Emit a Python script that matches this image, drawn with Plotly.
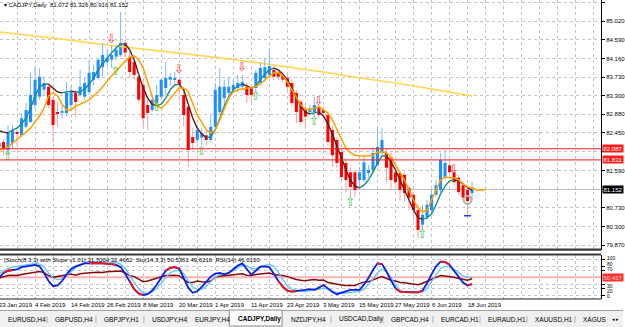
import plotly.graph_objects as go

# ---------------- data ----------------
date_labels = ["23 Jan 2019", "4 Feb 2019", "14 Feb 2019", "26 Feb 2019", "8 Mar 2019",
               "20 Mar 2019", "1 Apr 2019", "11 Apr 2019", "23 Apr 2019", "3 May 2019",
               "15 May 2019", "27 May 2019", "6 Jun 2019", "18 Jun 2019"]
date_label_bar = [0, 8, 16, 24, 32, 40, 48, 56, 64, 72, 80, 88, 96, 104]

opens = [82.22,82.24,82.06,82.22,82.47,82.40,82.59,82.70,83.09,83.28,
 83.44,83.51,83.21,82.93,82.93,82.91,83.09,83.37,83.32,83.28,
 83.39,83.67,83.71,83.96,84.08,84.13,84.20,84.24,84.52,84.20,
 84.08,83.74,83.55,83.09,82.98,83.14,83.28,83.48,83.67,83.67,
 83.67,83.32,83.05,82.36,82.29,82.34,82.40,82.29,82.59,82.93,
 83.25,83.37,83.44,83.48,83.51,83.51,83.48,83.48,83.60,83.71,
 83.78,83.90,83.85,83.78,83.71,83.60,83.37,83.16,82.98,82.93,
 82.93,83.05,82.98,82.86,82.52,82.29,82.01,81.76,81.55,81.55,
 81.37,81.37,81.53,81.60,81.71,81.99,81.99,81.90,81.55,81.53,
 81.49,81.19,81.03,80.68,80.34,80.52,80.68,81.03,81.14,81.44,
 81.71,81.55,81.42,81.25,81.14,81.072]
highs = [82.34,82.31,82.63,82.63,82.52,82.91,83.14,83.83,83.96,83.94,
 83.74,83.60,83.28,83.16,83.09,83.62,83.53,83.44,83.90,83.71,
 84.13,84.01,84.17,84.52,84.36,84.47,84.47,85.23,84.58,84.31,
 84.17,83.78,83.67,83.28,83.32,83.55,83.71,84.08,83.83,83.85,
 83.74,83.48,83.09,82.56,82.63,82.56,82.52,82.86,83.60,83.94,
 83.67,83.74,83.67,83.78,83.78,83.60,83.55,83.90,84.08,84.17,
 84.36,84.01,83.90,83.85,83.78,83.67,83.44,83.21,83.09,83.09,
 83.28,83.09,83.05,82.93,82.63,82.36,82.10,81.83,81.65,81.60,
 81.67,81.94,81.71,82.13,82.59,82.56,82.10,82.01,81.65,81.60,
 81.55,81.25,81.09,80.80,80.80,80.91,81.14,81.37,81.99,82.06,
 81.83,81.60,81.49,81.30,81.25,81.326]
lows = [82.01,81.94,81.94,82.10,82.17,82.36,82.56,82.68,83.02,83.21,
 83.32,83.02,82.24,82.59,82.79,82.84,82.98,82.82,83.28,83.21,
 83.32,83.55,83.67,83.74,84.00,83.94,84.13,84.20,84.17,83.71,
 83.67,83.16,82.59,82.52,82.93,83.09,83.21,83.32,83.55,83.55,
 83.21,82.59,81.67,82.06,82.22,82.17,82.17,82.24,82.52,82.86,
 83.09,83.28,83.37,83.39,83.44,83.14,83.14,83.37,83.55,83.62,
 83.74,83.67,83.67,83.60,83.44,83.05,82.68,82.63,82.56,82.86,
 82.82,82.79,82.79,82.17,81.67,81.65,81.37,81.09,80.96,80.98,
 81.21,81.32,81.44,81.53,81.67,81.90,81.32,81.14,81.25,80.91,
 80.86,80.68,80.45,80.04,80.22,80.45,80.57,80.98,81.09,81.37,
 81.44,81.25,81.03,80.91,80.57,80.916]
closes = [82.13,82.10,82.45,82.52,82.43,82.79,82.98,83.32,83.67,83.74,
 83.60,83.09,82.63,82.89,82.95,83.37,83.39,83.16,83.51,83.60,
 83.83,83.85,84.13,84.24,84.17,84.24,84.36,84.52,84.29,83.85,
 83.78,83.21,82.79,82.91,83.21,83.32,83.67,83.71,83.74,83.71,
 83.55,82.86,82.06,82.22,82.52,82.45,82.29,82.59,83.44,83.51,
 83.51,83.51,83.55,83.60,83.62,83.32,83.32,83.83,83.94,83.96,
 83.99,83.74,83.74,83.67,83.51,83.14,82.93,82.70,82.82,83.02,
 83.09,82.86,82.91,82.24,81.94,81.76,81.44,81.37,81.21,81.14,
 81.55,81.78,81.60,81.99,82.13,82.29,81.65,81.37,81.32,81.14,
 81.07,80.96,80.68,80.22,80.57,80.80,81.03,81.25,81.83,81.76,
 81.55,81.32,81.09,80.96,80.88,81.152]

fast_ma = [82.50,82.47,82.45,82.52,82.56,82.66,82.79,83.02,83.30,83.51,
 83.57,83.57,83.48,83.39,83.37,83.39,83.41,83.39,83.39,83.46,
 83.57,83.71,83.90,84.03,84.17,84.29,84.40,84.49,84.49,84.36,
 84.13,83.80,83.48,83.25,83.11,83.07,83.11,83.25,83.44,83.55,
 83.57,83.44,83.11,82.79,82.56,82.43,82.34,82.36,82.52,82.79,
 83.07,83.28,83.44,83.53,83.57,83.53,83.48,83.53,83.67,83.80,
 83.90,83.94,83.90,83.80,83.67,83.48,83.25,83.07,82.93,82.89,
 82.91,82.93,82.84,82.66,82.43,82.15,81.88,81.60,81.37,81.23,
 81.19,81.25,81.37,81.55,81.76,81.92,81.92,81.78,81.60,81.37,
 81.14,80.91,80.68,80.50,80.47,80.50,80.59,80.80,81.05,81.23,
 81.35,81.37,81.35,81.28,81.19,81.14]
slow_ma = [82.06,82.08,82.13,82.22,82.31,82.38,82.47,82.56,82.70,82.84,
 83.02,83.30,83.37,83.30,83.11,82.98,82.98,83.07,83.11,83.16,
 83.21,83.30,83.39,83.51,83.64,83.76,83.87,83.99,84.10,84.19,
 84.22,84.13,83.94,83.62,83.28,83.07,83.02,83.11,83.25,83.37,
 83.48,83.48,83.39,83.14,82.86,82.70,82.52,82.45,82.52,82.75,
 83.02,83.25,83.39,83.44,83.46,83.48,83.48,83.53,83.57,83.67,
 83.76,83.83,83.83,83.76,83.62,83.44,83.25,83.09,83.00,82.98,
 83.02,83.05,82.98,82.91,82.75,82.52,82.29,82.10,81.99,81.94,
 81.92,81.92,81.92,81.94,82.01,82.01,81.99,81.88,81.71,81.55,
 81.37,81.14,80.91,80.73,80.64,80.68,80.91,81.14,81.37,81.44,
 81.42,81.42,81.37,81.28,81.21,81.19,81.14,81.14,81.14]
long_ma_bar = [0, 8, 16, 24, 32, 40, 48, 56, 64, 72, 80, 88, 96, 105]
long_ma = [84.77, 84.68, 84.58, 84.47, 84.38, 84.29, 84.19, 84.08, 83.96, 83.85, 83.71, 83.60, 83.46, 83.30]

level_prices = [82.087, 81.831]
last_price = 81.152
price_ticks = [85.450, 85.020, 84.590, 84.160, 83.730, 83.300, 82.880, 82.450, 82.020,
               81.590, 81.160, 80.730, 80.300, 79.870]
hidden_ticks = [82.020, 81.160]   # covered by the level / price boxes

up_arrow_bar = [25, 40, 54, 71, 101]
up_arrow_price = [84.58, 83.90, 83.94, 83.16, 81.60]
dn_arrow_bar = [2, 26, 35, 45, 57, 70, 78, 94]
dn_arrow_price = [81.90, 83.85, 83.02, 82.01, 83.28, 82.70, 80.84, 80.11]
ring_bar, ring_price = [104], [80.91]
dash_bar, dash_price = [104], [80.55]

stoch8 = [48,62,68,70,72,78,80,82,84,80,62,40,26,28,40,58,72,80,84,88,
 88,89,89,88,88,86,84,78,60,40,18,6,2,4,14,30,50,68,76,78,
 74,50,22,8,12,24,38,52,60,62,58,62,72,82,88,72,57,68,79,80,
 78,60,40,24,14,11,12,14,16,18,16,22,29,20,10,4,8,14,16,16,
 16,30,48,70,88,86,66,42,20,11,10,9,9,9,14,34,58,80,93,92,
 84,68,50,36,28,31.7]
stoch8_red_ranges = [(1, 3), (20, 26), (29, 32), (37, 40), (62, 66), (84, 85), (88, 94), (98, 100), (104, 105)]
sto14 = [60,68,74,78,80,82,84,86,88,86,78,62,48,44,46,55,66,76,84,90,
 92,93,93,92,92,92,90,86,74,56,36,18,8,6,10,20,34,50,62,68,
 70,60,42,24,16,18,26,38,50,58,60,62,68,76,84,82,74,74,78,84,
 86,80,64,44,28,18,14,12,12,14,14,16,20,18,12,8,6,8,10,10,
 12,18,30,46,62,72,66,50,30,16,10,8,8,8,10,20,38,58,74,80,
 80,72,62,54,50,50.5]
rsi14 = [48,52,55,56,55,58,60,64,66,66,63,55,50,52,53,57,59,56,60,61,
 63,63,64,63,65,65,66,67,62,55,52,45,38,40,44,47,52,55,55,56,
 54,45,36,36,40,38,37,40,50,53,54,55,56,58,60,56,55,58,60,61,
 62,58,57,55,52,47,44,42,41,43,44,42,43,36,33,32,29,28,27,28,
 33,37,38,44,48,52,47,42,40,36,35,34,32,30,34,40,46,50,55,54,
 52,50,47,44,42,46]
osc_level = 50.467
osc_ticks = [100, 80, 70, 30, 20, 0]

tabs = ["EURUSD,H4", "GBPUSD,H4", "GBPJPY,H1", "USDJPY,H4", "EURJPY,H4", "CADJPY,Daily",
        "NZDJPY,H4", "USDCAD,Daily", "GBPCAD,H4", "EURCAD,H1", "EURAUD,H1", "XAUUSD,H1", "XAGUS"]
active_tab = "CADJPY,Daily"

# ---------------- styling / layout ----------------
W, H = 625, 327
FONT = "Liberation Sans"
BULL, BEAR = "#1E8FFF", "#FF0000"
BULL_W, BEAR_W = "#7CB8F4", "#F4A2A2"

def py(px):  # pixel row -> paper y
    return 1 - px / H

x_lo, x_hi = 1 / 4.52, 604 / 4.52
main_dom = [py(249.5), 1.0]
osc_dom = [py(299), py(254.5)]
xdom = [0, 603 / W]
osc_range = [-8.99, 112.26]

def bar_to_paper(b):
    return xdom[0] + (b - x_lo) / (x_hi - x_lo) * (xdom[1] - xdom[0])

n = len(closes)
idx = list(range(n))

fig = go.Figure()

fig.add_trace(go.Scatter(x=long_ma_bar, y=long_ma, mode="lines",
                         line=dict(color="#FFD54A", width=1.5), hoverinfo="skip"))

def wick_xy(sel):
    xs, ys = [], []
    for i in idx:
        if not sel(i):
            continue
        top, bot = max(opens[i], closes[i]), min(opens[i], closes[i])
        xs += [i, i, None, i, i, None]
        ys += [highs[i], top, None, bot, lows[i], None]
    return xs, ys

bx, byy = wick_xy(lambda i: closes[i] >= opens[i])
rx, ryy = wick_xy(lambda i: closes[i] < opens[i])
fig.add_trace(go.Scatter(x=bx, y=byy, mode="lines", line=dict(color=BULL_W, width=1), hoverinfo="skip"))
fig.add_trace(go.Scatter(x=rx, y=ryy, mode="lines", line=dict(color=BEAR_W, width=1), hoverinfo="skip"))

fig.add_trace(go.Bar(x=idx, base=[min(o, c) for o, c in zip(opens, closes)],
                     y=[max(abs(c - o), 0.015) for o, c in zip(opens, closes)],
                     width=0.68, marker=dict(color=[BULL if c >= o else BEAR for o, c in zip(opens, closes)],
                                             line=dict(width=0)), hoverinfo="skip"))

tx, ty, mx, my = [], [], [], []
for i in range(len(fast_ma) - 1):
    if fast_ma[i + 1] >= fast_ma[i]:
        tx += [i, i + 1, None]; ty += [fast_ma[i], fast_ma[i + 1], None]
    else:
        mx += [i, i + 1, None]; my += [fast_ma[i], fast_ma[i + 1], None]
fig.add_trace(go.Scatter(x=tx, y=ty, mode="lines", line=dict(color="#1A8A8A", width=1.4), hoverinfo="skip"))
fig.add_trace(go.Scatter(x=mx, y=my, mode="lines", line=dict(color="#5C1A1A", width=1.4), hoverinfo="skip"))

fig.add_trace(go.Scatter(x=list(range(len(slow_ma))), y=slow_ma, mode="lines",
                         line=dict(color="#FFA000", width=1.5), hoverinfo="skip"))

fig.add_trace(go.Scatter(x=up_arrow_bar, y=up_arrow_price, mode="text", text=["⇩"] * len(up_arrow_bar),
                         textfont=dict(family="DejaVu Sans", size=12, color="#FF3030"), hoverinfo="skip"))
fig.add_trace(go.Scatter(x=dn_arrow_bar, y=dn_arrow_price, mode="text", text=["⇧"] * len(dn_arrow_bar),
                         textfont=dict(family="DejaVu Sans", size=12, color="#35C735"), hoverinfo="skip"))
fig.add_trace(go.Scatter(x=ring_bar, y=ring_price, mode="markers",
                         marker=dict(symbol="circle-open", size=8, color="#B0B0B0", line=dict(width=2)),
                         hoverinfo="skip"))
fig.add_trace(go.Scatter(x=dash_bar, y=dash_price, mode="markers",
                         marker=dict(symbol="line-ew", size=5, line=dict(color="#2040FF", width=1.5)),
                         hoverinfo="skip"))

# ---- oscillator pane ----
fig.add_trace(go.Scatter(x=[0, x_hi], y=[osc_level, osc_level], mode="lines", xaxis="x2", yaxis="y2",
                         line=dict(color="#FFB0B0", width=2), hoverinfo="skip"))
fig.add_trace(go.Scatter(x=idx, y=rsi14, mode="lines", xaxis="x2", yaxis="y2",
                         line=dict(color="#8B0A0A", width=1.5), hoverinfo="skip"))
fig.add_trace(go.Scatter(x=idx, y=sto14, mode="lines", xaxis="x2", yaxis="y2",
                         line=dict(color="#5CC8F8", width=1.3), hoverinfo="skip"))
fig.add_trace(go.Scatter(x=idx, y=stoch8, mode="lines", xaxis="x2", yaxis="y2",
                         line=dict(color="#0A1EF0", width=1.8), hoverinfo="skip"))
for a, b in stoch8_red_ranges:
    fig.add_trace(go.Scatter(x=list(range(a, b + 1)), y=stoch8[a:b + 1], mode="lines", xaxis="x2", yaxis="y2",
                             line=dict(color="#FF1010", width=1.8), hoverinfo="skip"))

grid = dict(showgrid=True, gridcolor="#C4C4C4", griddash="dot", gridwidth=1)
fig.update_layout(
    width=W, height=H, margin=dict(l=0, r=0, t=0, b=0),
    paper_bgcolor="white", plot_bgcolor="white", showlegend=False, barmode="overlay",
    font=dict(family=FONT, size=6, color="black"),
    xaxis=dict(domain=xdom, range=[x_lo, x_hi], anchor="y", tickvals=list(range(0, 134, 4)),
               showticklabels=False, ticks="", zeroline=False, **grid),
    xaxis2=dict(domain=xdom, range=[x_lo, x_hi], anchor="y2", matches="x", tickvals=list(range(0, 134, 4)),
                showticklabels=False, ticks="", zeroline=False, **grid),
    yaxis=dict(domain=main_dom, range=[79.774, 85.503], side="right", tickvals=price_ticks,
               ticktext=["" if v in hidden_ticks else f"{v:.3f}" for v in price_ticks],
               ticks="outside", ticklen=3, tickcolor="black",
               showline=True, linecolor="black", linewidth=1, zeroline=False,
               tickfont=dict(size=6, family=FONT), **grid),
    yaxis2=dict(domain=osc_dom, range=osc_range, side="right", tickvals=osc_ticks,
                showticklabels=False, ticks="outside", ticklen=3, tickcolor="black",
                showline=True, linecolor="black", linewidth=1, zeroline=False, **grid),
)

shapes = []
for lv in level_prices:
    shapes.append(dict(type="line", xref="x", yref="y", x0=x_lo, x1=x_hi, y0=lv, y1=lv,
                       line=dict(color="#FF1A1A", width=1)))
shapes.append(dict(type="line", xref="x", yref="y", x0=x_lo, x1=x_hi, y0=last_price, y1=last_price,
                   line=dict(color="#B8B8B8", width=1), layer="below"))
shapes += [
    dict(type="rect", xref="paper", yref="paper", x0=0, x1=603 / W, y0=py(250.8), y1=py(248.6),
         fillcolor="#3A3A3A", line=dict(width=0)),
    dict(type="rect", xref="paper", yref="paper", x0=0, x1=603 / W, y0=py(255.6), y1=py(253.6),
         fillcolor="#3A3A3A", line=dict(width=0)),
    dict(type="line", xref="paper", yref="paper", x0=0, x1=603 / W, y0=py(299), y1=py(299),
         line=dict(color="#202020", width=1)),
    dict(type="rect", xref="paper", yref="paper", x0=0, x1=1, y0=0, y1=py(310.5),
         fillcolor="#F0F0F0", line=dict(width=0)),
    dict(type="line", xref="paper", yref="paper", x0=0, x1=1, y0=py(310.5), y1=py(310.5),
         line=dict(color="#A0A0A0", width=1)),
]

ann = []
ann.append(dict(xref="paper", yref="paper", x=2 / W, y=py(5), xanchor="left", yanchor="middle",
                text="▾ CADJPY,Daily  81.072 81.326 80.916 81.152", showarrow=False,
                font=dict(size=6, family=FONT, color="black")))
ann.append(dict(xref="paper", yref="paper", x=2 / W, y=py(259.5), xanchor="left", yanchor="middle",
                text="[Stoch(8,3,3) with Slope v1.01] 31.7004 32.4662  Sto(14,3,3) 50.5361 49.6216  RSI(14) 46.0130",
                showarrow=False, font=dict(size=6, family=FONT, color="black")))
for lv in level_prices:
    ann.append(dict(xref="paper", yref="y", x=604 / W, y=lv, xanchor="left", yanchor="middle",
                    text=f"{lv:.3f}", showarrow=False, bgcolor="#FF1A1A", borderpad=0.5,
                    font=dict(size=6, family=FONT, color="white")))
ann.append(dict(xref="paper", yref="y", x=604 / W, y=last_price, xanchor="left", yanchor="middle",
                text=f"{last_price:.3f}", showarrow=False, bgcolor="black", borderpad=0.5,
                font=dict(size=6, family=FONT, color="white")))
ann.append(dict(xref="paper", yref="y2", x=604 / W, y=osc_level, xanchor="left", yanchor="middle",
                text=f"{osc_level:.3f}", showarrow=False, bgcolor="#FF3030", borderpad=0.5,
                font=dict(size=6, family=FONT, color="#FFD0D0")))
osc_label_nudge = {100: -1.0, 80: -2.5, 70: -1.0, 30: 1.5, 20: 2.5, 0: 0.5}
for v in osc_ticks:
    ann.append(dict(xref="paper", yref="y2", x=607 / W, y=v, xanchor="left", yanchor="middle",
                    yshift=-osc_label_nudge[v], text=str(v), showarrow=False,
                    font=dict(size=5, family=FONT, color="black")))
for b, t in zip(date_label_bar, date_labels):
    ann.append(dict(xref="paper", yref="paper", x=bar_to_paper(b), y=py(305), xanchor="left", yanchor="middle",
                    text=t, showarrow=False, xshift=-2, font=dict(size=6, family=FONT, color="black")))

tab_x = [6, 53, 102, 150, 194, 237, 290, 338, 390, 440, 488, 535, 583]
for k, (t, x) in enumerate(zip(tabs, tab_x)):
    if t == active_tab:
        shapes.append(dict(type="rect", xref="paper", yref="paper", x0=230 / W, x1=283 / W,
                           y0=py(326), y1=py(310), fillcolor="white", line=dict(color="#8C8C8C", width=1)))
    ann.append(dict(xref="paper", yref="paper", x=x / W, y=py(319), xanchor="left", yanchor="middle",
                    text=(f"<b>{t}</b>" if t == active_tab else t), showarrow=False,
                    font=dict(size=6.5, family=FONT, color="black")))
    if k + 1 < len(tabs) and t != active_tab and tabs[k + 1] != active_tab:
        ann.append(dict(xref="paper", yref="paper", x=(tab_x[k + 1] - 6) / W, y=py(319), xanchor="center",
                        yanchor="middle", text="|", showarrow=False, font=dict(size=7, family=FONT, color="#808080")))
ann.append(dict(xref="paper", yref="paper", x=617 / W, y=py(319), xanchor="center", yanchor="middle",
                text="◂ ▸", showarrow=False, font=dict(size=5, family="DejaVu Sans", color="black")))

fig.update_layout(shapes=shapes, annotations=ann)
fig.write_html("out.html")
